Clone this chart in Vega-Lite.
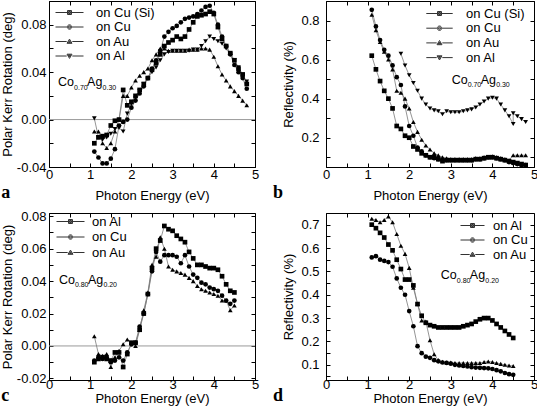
{
"$schema": "https://vega.github.io/schema/vega-lite/v6.json",
"background": "white",
"padding": {"left": 0, "top": 0, "right": 0, "bottom": 0},
"columns": 2,
"spacing": {"row": 6, "column": 12},
"resolve": {"scale": {"shape": "independent"}, "legend": {"shape": "independent"}},
"config": {
  "font": "Liberation Sans",
  "view": {"stroke": "black", "strokeWidth": 1},
  "axis": {"labelFont": "Liberation Sans", "labelFontSize": 13, "labelColor": "black", "titleFont": "Liberation Sans", "titleFontSize": 13, "titleFontWeight": "normal", "titleColor": "black", "domainColor": "black", "tickColor": "black", "tickSize": -4, "tickWidth": 1, "grid": false, "labelPadding": 5, "titlePadding": 3, "labelFlush": false, "labelOverlap": false, "labelBound": false},
  "legend": {"labelFont": "Liberation Sans", "labelFontSize": 13, "labelColor": "black", "title": null}
},
"datasets": {
  "a": [
    {"E":1.1,"on Cu (Si)":-0.020,"on Cu":-0.027,"on Au":-0.010,"on Al":0.001},
    {"E":1.2,"on Cu (Si)":-0.015,"on Cu":-0.032,"on Au":-0.010,"on Al":-0.015},
    {"E":1.3,"on Cu (Si)":-0.014,"on Cu":-0.037,"on Au":-0.020,"on Al":-0.017},
    {"E":1.4,"on Cu (Si)":-0.013,"on Cu":-0.037,"on Au":-0.024,"on Al":-0.015},
    {"E":1.5,"on Cu (Si)":-0.005,"on Cu":-0.033,"on Au":-0.020,"on Al":-0.012},
    {"E":1.6,"on Cu (Si)":-0.001,"on Cu":-0.025,"on Au":-0.010,"on Al":-0.008},
    {"E":1.7,"on Cu (Si)":0.000,"on Cu":-0.005,"on Au":0.000,"on Al":-0.007},
    {"E":1.8,"on Cu (Si)":0.025,"on Cu":-0.002,"on Au":0.020,"on Al":-0.010},
    {"E":1.9,"on Cu (Si)":0.012,"on Cu":0.000,"on Au":0.020,"on Al":0.005},
    {"E":2.0,"on Cu (Si)":0.015,"on Cu":0.010,"on Au":0.027,"on Al":0.013},
    {"E":2.1,"on Cu (Si)":0.020,"on Cu":0.016,"on Au":0.033,"on Al":0.018},
    {"E":2.2,"on Cu (Si)":0.025,"on Cu":0.022,"on Au":0.037,"on Al":0.024},
    {"E":2.3,"on Cu (Si)":0.030,"on Cu":0.028,"on Au":0.040,"on Al":0.030},
    {"E":2.4,"on Cu (Si)":0.035,"on Cu":0.035,"on Au":0.043,"on Al":0.035},
    {"E":2.5,"on Cu (Si)":0.042,"on Cu":0.043,"on Au":0.050,"on Al":0.040},
    {"E":2.6,"on Cu (Si)":0.048,"on Cu":0.050,"on Au":0.055,"on Al":0.044},
    {"E":2.7,"on Cu (Si)":0.055,"on Cu":0.058,"on Au":0.060,"on Al":0.050},
    {"E":2.8,"on Cu (Si)":0.062,"on Cu":0.070,"on Au":0.060,"on Al":0.055},
    {"E":2.9,"on Cu (Si)":0.065,"on Cu":0.074,"on Au":0.058,"on Al":0.057},
    {"E":3.0,"on Cu (Si)":0.067,"on Cu":0.077,"on Au":0.058,"on Al":0.058},
    {"E":3.1,"on Cu (Si)":0.070,"on Cu":0.079,"on Au":0.058,"on Al":0.058},
    {"E":3.2,"on Cu (Si)":0.068,"on Cu":0.082,"on Au":0.058,"on Al":0.058},
    {"E":3.3,"on Cu (Si)":0.070,"on Cu":0.085,"on Au":0.058,"on Al":0.058},
    {"E":3.4,"on Cu (Si)":0.076,"on Cu":0.086,"on Au":0.059,"on Al":0.058},
    {"E":3.5,"on Cu (Si)":0.082,"on Cu":0.087,"on Au":0.059,"on Al":0.059},
    {"E":3.6,"on Cu (Si)":0.087,"on Cu":0.089,"on Au":0.059,"on Al":0.059},
    {"E":3.7,"on Cu (Si)":0.088,"on Cu":0.092,"on Au":0.060,"on Al":0.062},
    {"E":3.8,"on Cu (Si)":0.089,"on Cu":0.095,"on Au":0.060,"on Al":0.066},
    {"E":3.9,"on Cu (Si)":0.091,"on Cu":0.096,"on Au":0.059,"on Al":0.070},
    {"E":4.0,"on Cu (Si)":0.089,"on Cu":0.090,"on Au":0.053,"on Al":0.068},
    {"E":4.1,"on Cu (Si)":0.078,"on Cu":0.080,"on Au":0.045,"on Al":0.066},
    {"E":4.2,"on Cu (Si)":0.068,"on Cu":0.070,"on Au":0.038,"on Al":0.064},
    {"E":4.3,"on Cu (Si)":0.062,"on Cu":0.062,"on Au":0.033,"on Al":0.060},
    {"E":4.4,"on Cu (Si)":0.056,"on Cu":0.055,"on Au":0.028,"on Al":0.055},
    {"E":4.5,"on Cu (Si)":0.050,"on Cu":0.046,"on Au":0.024,"on Al":0.050},
    {"E":4.6,"on Cu (Si)":0.043,"on Cu":0.040,"on Au":0.020,"on Al":0.044},
    {"E":4.7,"on Cu (Si)":0.038,"on Cu":0.035,"on Au":0.016,"on Al":0.038},
    {"E":4.8,"on Cu (Si)":0.030,"on Cu":0.026,"on Au":0.012,"on Al":0.032}
  ],
  "b": [
    {"E":1.1,"on Cu (Si)":0.62,"on Cu":0.855,"on Au":0.83},
    {"E":1.2,"on Cu (Si)":0.55,"on Cu":0.77,"on Au":0.75},
    {"E":1.3,"on Cu (Si)":0.49,"on Cu":0.70,"on Au":0.69},
    {"E":1.4,"on Cu (Si)":0.44,"on Cu":0.65,"on Au":0.64},
    {"E":1.5,"on Cu (Si)":0.40,"on Cu":0.62,"on Au":0.60},
    {"E":1.6,"on Cu (Si)":0.35,"on Cu":0.57,"on Au":0.55},
    {"E":1.7,"on Cu (Si)":0.26,"on Cu":0.51,"on Au":0.44},
    {"E":1.8,"on Cu (Si)":0.245,"on Cu":0.47,"on Au":0.43,"on Al":0.63},
    {"E":1.9,"on Cu (Si)":0.21,"on Cu":0.36,"on Au":0.40,"on Al":0.57},
    {"E":2.0,"on Cu (Si)":0.20,"on Cu":0.26,"on Au":0.35,"on Al":0.52},
    {"E":2.1,"on Cu (Si)":0.155,"on Cu":0.21,"on Au":0.28,"on Al":0.48},
    {"E":2.2,"on Cu (Si)":0.14,"on Cu":0.15,"on Au":0.23,"on Al":0.44},
    {"E":2.3,"on Cu (Si)":0.12,"on Cu":0.13,"on Au":0.19,"on Al":0.40},
    {"E":2.4,"on Cu (Si)":0.11,"on Cu":0.11,"on Au":0.16,"on Al":0.37},
    {"E":2.5,"on Cu (Si)":0.10,"on Cu":0.10,"on Au":0.14,"on Al":0.35},
    {"E":2.6,"on Cu (Si)":0.10,"on Cu":0.095,"on Au":0.12,"on Al":0.34},
    {"E":2.7,"on Cu (Si)":0.09,"on Cu":0.09,"on Au":0.11,"on Al":0.335},
    {"E":2.8,"on Cu (Si)":0.08,"on Cu":0.085,"on Au":0.10,"on Al":0.32},
    {"E":2.9,"on Cu (Si)":0.085,"on Cu":0.085,"on Au":0.095,"on Al":0.335},
    {"E":3.0,"on Cu (Si)":0.085,"on Cu":0.085,"on Au":0.09,"on Al":0.33},
    {"E":3.1,"on Cu (Si)":0.085,"on Cu":0.085,"on Au":0.09,"on Al":0.33},
    {"E":3.2,"on Cu (Si)":0.085,"on Cu":0.085,"on Au":0.09,"on Al":0.33},
    {"E":3.3,"on Cu (Si)":0.085,"on Cu":0.085,"on Au":0.09,"on Al":0.335},
    {"E":3.4,"on Cu (Si)":0.085,"on Cu":0.085,"on Au":0.09,"on Al":0.34},
    {"E":3.5,"on Cu (Si)":0.085,"on Cu":0.085,"on Au":0.09,"on Al":0.345},
    {"E":3.6,"on Cu (Si)":0.09,"on Cu":0.09,"on Au":0.095,"on Al":0.355},
    {"E":3.7,"on Cu (Si)":0.09,"on Cu":0.09,"on Au":0.095,"on Al":0.37},
    {"E":3.8,"on Cu (Si)":0.095,"on Cu":0.095,"on Au":0.10,"on Al":0.385},
    {"E":3.9,"on Cu (Si)":0.10,"on Cu":0.10,"on Au":0.10,"on Al":0.40},
    {"E":4.0,"on Cu (Si)":0.10,"on Cu":0.10,"on Au":0.105,"on Al":0.405},
    {"E":4.1,"on Cu (Si)":0.095,"on Cu":0.095,"on Au":0.10,"on Al":0.40},
    {"E":4.2,"on Cu (Si)":0.09,"on Cu":0.09,"on Au":0.095,"on Al":0.37},
    {"E":4.3,"on Cu (Si)":0.085,"on Cu":0.085,"on Au":0.09,"on Al":0.34},
    {"E":4.4,"on Cu (Si)":0.08,"on Cu":0.075,"on Au":0.085,"on Al":0.31},
    {"E":4.5,"on Cu (Si)":0.075,"on Cu":0.07,"on Au":0.11,"on Al":0.27},
    {"E":4.5,"on Al":0.325},
    {"E":4.6,"on Cu (Si)":0.07,"on Cu":0.065,"on Au":0.11,"on Al":0.31},
    {"E":4.7,"on Cu (Si)":0.065,"on Cu":0.06,"on Au":0.11,"on Al":0.295},
    {"E":4.8,"on Cu (Si)":0.06,"on Cu":0.06,"on Au":0.11,"on Al":0.28}
  ],
  "c": [
    {"E":1.1,"on Al":-0.010,"on Cu":-0.009,"on Au":0.006},
    {"E":1.2,"on Al":-0.008,"on Cu":-0.007,"on Au":-0.005},
    {"E":1.3,"on Al":-0.007,"on Cu":-0.008,"on Au":-0.006},
    {"E":1.4,"on Al":-0.008,"on Cu":-0.007,"on Au":-0.005},
    {"E":1.5,"on Al":-0.009,"on Cu":-0.010,"on Au":-0.013},
    {"E":1.6,"on Al":-0.004,"on Cu":-0.009,"on Au":-0.007},
    {"E":1.7,"on Al":-0.004,"on Cu":-0.007,"on Au":-0.003},
    {"E":1.8,"on Al":-0.013,"on Cu":-0.009,"on Au":0.001},
    {"E":1.9,"on Al":-0.005,"on Cu":-0.004,"on Au":0.004},
    {"E":2.0,"on Al":0.002,"on Cu":0.001,"on Au":0.002},
    {"E":2.1,"on Al":0.002,"on Cu":0.002,"on Au":0.000},
    {"E":2.2,"on Al":0.010,"on Cu":0.012,"on Au":0.010},
    {"E":2.3,"on Al":0.020,"on Cu":0.020,"on Au":0.022},
    {"E":2.4,"on Al":0.032,"on Cu":0.032,"on Au":0.033},
    {"E":2.5,"on Al":0.048,"on Cu":0.046,"on Au":0.050},
    {"E":2.6,"on Al":0.060,"on Cu":0.058,"on Au":0.055},
    {"E":2.7,"on Al":0.065,"on Cu":0.052,"on Au":0.067},
    {"E":2.8,"on Al":0.074,"on Cu":0.056,"on Au":0.060},
    {"E":2.9,"on Al":0.072,"on Cu":0.056,"on Au":0.049},
    {"E":3.0,"on Al":0.071,"on Cu":0.056,"on Au":0.047},
    {"E":3.1,"on Al":0.068,"on Cu":0.055,"on Au":0.046},
    {"E":3.2,"on Al":0.066,"on Cu":0.051,"on Au":0.045},
    {"E":3.3,"on Al":0.064,"on Cu":0.056,"on Au":0.044},
    {"E":3.4,"on Al":0.058,"on Cu":0.049,"on Au":0.042},
    {"E":3.5,"on Al":0.054,"on Cu":0.044,"on Au":0.040},
    {"E":3.6,"on Al":0.050,"on Cu":0.042,"on Au":0.037},
    {"E":3.7,"on Al":0.050,"on Cu":0.039,"on Au":0.035},
    {"E":3.8,"on Al":0.049,"on Cu":0.038,"on Au":0.034},
    {"E":3.9,"on Al":0.048,"on Cu":0.036,"on Au":0.033},
    {"E":4.0,"on Al":0.048,"on Cu":0.035,"on Au":0.032},
    {"E":4.1,"on Al":0.047,"on Cu":0.034,"on Au":0.031},
    {"E":4.2,"on Al":0.043,"on Cu":0.031,"on Au":0.028},
    {"E":4.3,"on Al":0.038,"on Cu":0.028,"on Au":0.028},
    {"E":4.4,"on Al":0.034,"on Cu":0.026,"on Au":0.022},
    {"E":4.5,"on Al":0.033,"on Cu":0.028,"on Au":0.025}
  ],
  "d": [
    {"E":1.1,"on Al":0.70,"on Cu":0.56,"on Au":0.725},
    {"E":1.2,"on Al":0.685,"on Cu":0.565,"on Au":0.72},
    {"E":1.3,"on Al":0.665,"on Cu":0.55,"on Au":0.71},
    {"E":1.4,"on Al":0.645,"on Cu":0.545,"on Au":0.72},
    {"E":1.5,"on Al":0.615,"on Cu":0.54,"on Au":0.735},
    {"E":1.6,"on Al":0.59,"on Cu":0.52,"on Au":0.71},
    {"E":1.7,"on Al":0.55,"on Cu":0.47,"on Au":0.66},
    {"E":1.8,"on Al":0.51,"on Cu":0.43,"on Au":0.61},
    {"E":1.9,"on Al":0.465,"on Cu":0.40,"on Au":0.575},
    {"E":2.0,"on Al":0.465,"on Cu":0.33,"on Au":0.515},
    {"E":2.1,"on Al":0.44,"on Cu":0.265,"on Au":0.43},
    {"E":2.2,"on Al":0.36,"on Cu":0.18,"on Au":0.36},
    {"E":2.3,"on Al":0.31,"on Cu":0.15,"on Au":0.29},
    {"E":2.4,"on Al":0.28,"on Cu":0.135,"on Au":0.285},
    {"E":2.5,"on Al":0.27,"on Cu":0.13,"on Au":0.205},
    {"E":2.6,"on Al":0.265,"on Cu":0.12,"on Au":0.145},
    {"E":2.7,"on Al":0.26,"on Cu":0.115,"on Au":0.12},
    {"E":2.8,"on Al":0.26,"on Cu":0.11,"on Au":0.113},
    {"E":2.9,"on Al":0.26,"on Cu":0.108,"on Au":0.11},
    {"E":3.0,"on Al":0.26,"on Cu":0.105,"on Au":0.11},
    {"E":3.1,"on Al":0.26,"on Cu":0.10,"on Au":0.108},
    {"E":3.2,"on Al":0.26,"on Cu":0.097,"on Au":0.108},
    {"E":3.3,"on Al":0.265,"on Cu":0.095,"on Au":0.108},
    {"E":3.4,"on Al":0.27,"on Cu":0.093,"on Au":0.108},
    {"E":3.5,"on Al":0.275,"on Cu":0.09,"on Au":0.108},
    {"E":3.6,"on Al":0.285,"on Cu":0.088,"on Au":0.108},
    {"E":3.7,"on Al":0.295,"on Cu":0.087,"on Au":0.108},
    {"E":3.8,"on Al":0.30,"on Cu":0.086,"on Au":0.112},
    {"E":3.9,"on Al":0.30,"on Cu":0.085,"on Au":0.114},
    {"E":4.0,"on Al":0.29,"on Cu":0.082,"on Au":0.112},
    {"E":4.1,"on Al":0.275,"on Cu":0.077,"on Au":0.108},
    {"E":4.2,"on Al":0.26,"on Cu":0.072,"on Au":0.104},
    {"E":4.3,"on Al":0.245,"on Cu":0.065,"on Au":0.10},
    {"E":4.4,"on Al":0.23,"on Cu":0.06,"on Au":0.097},
    {"E":4.5,"on Al":0.215,"on Cu":0.057,"on Au":0.095}
  ]
},
"concat": [
  {
    "width": 206, "height": 166,
    "data": {"name": "a"},
    "transform": [{"fold": ["on Cu (Si)", "on Cu", "on Au", "on Al"], "as": ["s", "v"]}, {"filter": "isValid(datum.v)"}],
    "title": {"text": "a", "orient": "bottom", "anchor": "start", "frame": "bounds", "font": "Liberation Serif", "fontWeight": "bold", "fontSize": 18, "offset": -18, "color": "black"},
    "resolve": {"axis": {"x": "independent", "y": "independent"}, "scale": {"shape": "independent"}, "legend": {"shape": "independent"}},
    "layer": [
      {"data": {"values": [{}]}, "mark": {"type": "rule", "color": "#9a9a9a", "strokeWidth": 1},
       "encoding": {"y": {"datum": 0, "type": "quantitative", "scale": {"domain": [-0.04, 0.1], "nice": false, "zero": false}, "axis": null}}},
      {"mark": {"type": "line", "color": "#7a7a7a", "strokeWidth": 0.8},
       "encoding": {
         "x": {"field": "E", "type": "quantitative", "scale": {"domain": [0, 5], "nice": false, "zero": false}, "axis": {"title": "Photon Energy (eV)", "titlePadding": 8, "values": [0,0.5,1,1.5,2,2.5,3,3.5,4,4.5,5], "labelExpr": "datum.value % 1 == 0 ? format(datum.value, 'd') : ''"}},
         "y": {"field": "v", "type": "quantitative", "scale": {"domain": [-0.04, 0.1], "nice": false, "zero": false}, "axis": {"title": "Polar Kerr Rotation (deg)", "labelPadding": 7, "titlePadding": 2, "values": [-0.04,-0.02,0,0.02,0.04,0.06,0.08], "labelExpr": "abs(datum.value*25 - round(datum.value*25)) < 0.01 ? (datum.value < -0.0001 ? '-' : '') + format(abs(datum.value), '.2f') : ''"}},
         "detail": {"field": "s", "type": "nominal"}}},
      {"mark": {"type": "point", "filled": true, "color": "black", "opacity": 1, "size": 22},
       "encoding": {
         "x": {"field": "E", "type": "quantitative", "scale": {"domain": [0, 5], "nice": false, "zero": false}, "axis": null},
         "y": {"field": "v", "type": "quantitative", "scale": {"domain": [-0.04, 0.1], "nice": false, "zero": false}, "axis": null},
         "shape": {"field": "s", "type": "nominal", "scale": {"domain": ["on Cu (Si)", "on Cu", "on Au", "on Al"], "range": ["square", "circle", "triangle-up", "triangle-down"]}, "legend": null}}},
      {"transform": [{"filter": "false"}],
       "mark": {"type": "point", "filled": false, "color": "#333333", "strokeWidth": 1, "opacity": 1},
       "encoding": {
         "x": {"field": "E", "type": "quantitative", "scale": {"domain": [0, 5], "nice": false, "zero": false}, "axis": null},
         "y": {"field": "v", "type": "quantitative", "scale": {"domain": [-0.04, 0.1], "nice": false, "zero": false}, "axis": null},
         "shape": {"field": "s", "type": "nominal", "scale": {"domain": ["on Cu (Si)", "on Cu", "on Au", "on Al"], "range": [
           "M-3.5,0H-0.6M0.6,0H3.5M-0.5,-0.5H0.5V0.5H-0.5ZM-0.25,-0.25H0.25V0.25H-0.25ZM-0.05,-0.05H0.05V0.05H-0.05Z",
           "M-3.5,0H-0.65M0.65,0H3.5M-0.55,0A0.55,0.55,0,1,0,0.55,0A0.55,0.55,0,1,0,-0.55,0ZM-0.28,0A0.28,0.28,0,1,0,0.28,0A0.28,0.28,0,1,0,-0.28,0ZM-0.06,0A0.06,0.06,0,1,0,0.06,0A0.06,0.06,0,1,0,-0.06,0Z",
           "M-3.5,0H-0.7M0.7,0H3.5M0,-0.6L0.62,0.45L-0.62,0.45ZM0,-0.22L0.3,0.28L-0.3,0.28ZM0,0.05L0.06,0.15L-0.06,0.15Z",
           "M-3.5,0H-0.7M0.7,0H3.5M0,0.6L0.62,-0.45L-0.62,-0.45ZM0,0.22L0.3,-0.28L-0.3,-0.28ZM0,-0.05L0.06,-0.15L-0.06,-0.15Z"]},
           "legend": {"orient": "none", "legendX": 14, "legendY": 5, "symbolSize": 64, "labelOffset": 20, "rowPadding": 0.5, "padding": 0, "symbolStrokeWidth": 1, "symbolFillColor": "black", "symbolOpacity": 1}}}},
      {"data": {"values": [{}]}, "mark": {"type": "text", "text": "Co", "align": "left", "baseline": "alphabetic", "font": "Liberation Sans", "fontSize": 12.5, "color": "black"},
       "encoding": {"x": {"datum": 0.22, "type": "quantitative", "scale": {"domain": [0, 5], "nice": false, "zero": false}, "axis": null}, "y": {"datum": 0.0282, "type": "quantitative", "scale": {"domain": [-0.04, 0.1], "nice": false, "zero": false}, "axis": null}}},
      {"data": {"values": [{}]}, "mark": {"type": "text", "text": "0.70", "align": "left", "baseline": "alphabetic", "font": "Liberation Sans", "fontSize": 7, "dx": 16, "dy": 3.5, "color": "black"},
       "encoding": {"x": {"datum": 0.22, "type": "quantitative", "scale": {"domain": [0, 5], "nice": false, "zero": false}, "axis": null}, "y": {"datum": 0.0282, "type": "quantitative", "scale": {"domain": [-0.04, 0.1], "nice": false, "zero": false}, "axis": null}}},
      {"data": {"values": [{}]}, "mark": {"type": "text", "text": "Ag", "align": "left", "baseline": "alphabetic", "font": "Liberation Sans", "fontSize": 12.5, "dx": 29, "color": "black"},
       "encoding": {"x": {"datum": 0.22, "type": "quantitative", "scale": {"domain": [0, 5], "nice": false, "zero": false}, "axis": null}, "y": {"datum": 0.0282, "type": "quantitative", "scale": {"domain": [-0.04, 0.1], "nice": false, "zero": false}, "axis": null}}},
      {"data": {"values": [{}]}, "mark": {"type": "text", "text": "0.30", "align": "left", "baseline": "alphabetic", "font": "Liberation Sans", "fontSize": 7, "dx": 44.5, "dy": 3.5, "color": "black"},
       "encoding": {"x": {"datum": 0.22, "type": "quantitative", "scale": {"domain": [0, 5], "nice": false, "zero": false}, "axis": null}, "y": {"datum": 0.0282, "type": "quantitative", "scale": {"domain": [-0.04, 0.1], "nice": false, "zero": false}, "axis": null}}},
      {"mark": {"type": "point", "opacity": 0},
       "encoding": {
         "x": {"field": "E", "type": "quantitative", "scale": {"domain": [0, 5], "nice": false, "zero": false}, "axis": {"orient": "top", "labels": false, "title": null, "domain": false, "values": [0,0.5,1,1.5,2,2.5,3,3.5,4,4.5,5]}},
         "y": {"field": "v", "type": "quantitative", "scale": {"domain": [-0.04, 0.1], "nice": false, "zero": false}, "axis": {"orient": "right", "labels": false, "title": null, "domain": false, "values": [-0.04,-0.02,0,0.02,0.04,0.06,0.08,0.1]}}}}
    ]
  },
  {
    "width": 208, "height": 166,
    "data": {"name": "b"},
    "transform": [{"fold": ["on Cu (Si)", "on Cu", "on Au", "on Al"], "as": ["s", "v"]}, {"filter": "isValid(datum.v)"}],
    "title": {"text": "b", "orient": "bottom", "anchor": "start", "frame": "bounds", "align": "right", "font": "Liberation Serif", "fontWeight": "bold", "fontSize": 18, "offset": -18, "color": "black"},
    "resolve": {"axis": {"x": "independent", "y": "independent"}, "scale": {"shape": "independent"}, "legend": {"shape": "independent"}},
    "layer": [
      {"mark": {"type": "line", "color": "#7a7a7a", "strokeWidth": 0.8},
       "encoding": {
         "x": {"field": "E", "type": "quantitative", "scale": {"domain": [0, 5], "nice": false, "zero": false}, "axis": {"title": "Photon Energy (eV)", "titlePadding": 8, "values": [0,0.5,1,1.5,2,2.5,3,3.5,4,4.5,5], "labelExpr": "datum.value % 1 == 0 ? format(datum.value, 'd') : ''"}},
         "y": {"field": "v", "type": "quantitative", "scale": {"domain": [0.05, 0.9], "nice": false, "zero": false}, "axis": {"title": "Reflectivity (%)", "labelPadding": 11, "titlePadding": 5, "values": [0.1,0.2,0.3,0.4,0.5,0.6,0.7,0.8], "labelExpr": "abs(datum.value*5 - round(datum.value*5)) < 0.01 ? format(datum.value, '.1f') : ''"}},
         "detail": {"field": "s", "type": "nominal"}}},
      {"mark": {"type": "point", "filled": true, "color": "black", "opacity": 1, "size": 22},
       "encoding": {
         "x": {"field": "E", "type": "quantitative", "scale": {"domain": [0, 5], "nice": false, "zero": false}, "axis": null},
         "y": {"field": "v", "type": "quantitative", "scale": {"domain": [0.05, 0.9], "nice": false, "zero": false}, "axis": null},
         "shape": {"field": "s", "type": "nominal", "scale": {"domain": ["on Cu (Si)", "on Cu", "on Au", "on Al"], "range": ["square", "circle", "triangle-up", "triangle-down"]}, "legend": null}}},
      {"transform": [{"filter": "false"}],
       "mark": {"type": "point", "filled": false, "color": "#333333", "strokeWidth": 1, "opacity": 1},
       "encoding": {
         "x": {"field": "E", "type": "quantitative", "scale": {"domain": [0, 5], "nice": false, "zero": false}, "axis": null},
         "y": {"field": "v", "type": "quantitative", "scale": {"domain": [0.05, 0.9], "nice": false, "zero": false}, "axis": null},
         "shape": {"field": "s", "type": "nominal", "scale": {"domain": ["on Cu (Si)", "on Cu", "on Au", "on Al"], "range": [
           "M-3.3,0H-0.6M0.6,0H3.3M-0.5,-0.5H0.5V0.5H-0.5ZM-0.25,-0.25H0.25V0.25H-0.25ZM-0.05,-0.05H0.05V0.05H-0.05Z",
           "M-3.3,0H-0.65M0.65,0H3.3M-0.55,0A0.55,0.55,0,1,0,0.55,0A0.55,0.55,0,1,0,-0.55,0ZM-0.28,0A0.28,0.28,0,1,0,0.28,0A0.28,0.28,0,1,0,-0.28,0ZM-0.06,0A0.06,0.06,0,1,0,0.06,0A0.06,0.06,0,1,0,-0.06,0Z",
           "M-3.3,0H-0.7M0.7,0H3.3M0,-0.6L0.62,0.45L-0.62,0.45ZM0,-0.22L0.3,0.28L-0.3,0.28ZM0,0.05L0.06,0.15L-0.06,0.15Z",
           "M-3.3,0H-0.7M0.7,0H3.3M0,0.6L0.62,-0.45L-0.62,-0.45ZM0,0.22L0.3,-0.28L-0.3,-0.28ZM0,-0.05L0.06,-0.15L-0.06,-0.15Z"]},
           "legend": {"orient": "none", "legendX": 107, "legendY": 6, "symbolSize": 64, "labelOffset": 20, "rowPadding": 0.7, "padding": 0, "symbolStrokeWidth": 1, "symbolFillColor": "black", "symbolOpacity": 1}}}},
      {"data": {"values": [{}]}, "mark": {"type": "text", "text": "Co", "align": "left", "baseline": "alphabetic", "font": "Liberation Sans", "fontSize": 12.5, "color": "black"},
       "encoding": {"x": {"datum": 3.02, "type": "quantitative", "scale": {"domain": [0, 5], "nice": false, "zero": false}, "axis": null}, "y": {"datum": 0.477, "type": "quantitative", "scale": {"domain": [0.05, 0.9], "nice": false, "zero": false}, "axis": null}}},
      {"data": {"values": [{}]}, "mark": {"type": "text", "text": "0.70", "align": "left", "baseline": "alphabetic", "font": "Liberation Sans", "fontSize": 7, "dx": 16, "dy": 3.5, "color": "black"},
       "encoding": {"x": {"datum": 3.02, "type": "quantitative", "scale": {"domain": [0, 5], "nice": false, "zero": false}, "axis": null}, "y": {"datum": 0.477, "type": "quantitative", "scale": {"domain": [0.05, 0.9], "nice": false, "zero": false}, "axis": null}}},
      {"data": {"values": [{}]}, "mark": {"type": "text", "text": "Ag", "align": "left", "baseline": "alphabetic", "font": "Liberation Sans", "fontSize": 12.5, "dx": 29, "color": "black"},
       "encoding": {"x": {"datum": 3.02, "type": "quantitative", "scale": {"domain": [0, 5], "nice": false, "zero": false}, "axis": null}, "y": {"datum": 0.477, "type": "quantitative", "scale": {"domain": [0.05, 0.9], "nice": false, "zero": false}, "axis": null}}},
      {"data": {"values": [{}]}, "mark": {"type": "text", "text": "0.30", "align": "left", "baseline": "alphabetic", "font": "Liberation Sans", "fontSize": 7, "dx": 44.5, "dy": 3.5, "color": "black"},
       "encoding": {"x": {"datum": 3.02, "type": "quantitative", "scale": {"domain": [0, 5], "nice": false, "zero": false}, "axis": null}, "y": {"datum": 0.477, "type": "quantitative", "scale": {"domain": [0.05, 0.9], "nice": false, "zero": false}, "axis": null}}},
      {"mark": {"type": "point", "opacity": 0},
       "encoding": {
         "x": {"field": "E", "type": "quantitative", "scale": {"domain": [0, 5], "nice": false, "zero": false}, "axis": {"orient": "top", "labels": false, "title": null, "domain": false, "values": [0,0.5,1,1.5,2,2.5,3,3.5,4,4.5,5]}},
         "y": {"field": "v", "type": "quantitative", "scale": {"domain": [0.05, 0.9], "nice": false, "zero": false}, "axis": {"orient": "right", "labels": false, "title": null, "domain": false, "values": [0.1,0.2,0.3,0.4,0.5,0.6,0.7,0.8,0.9]}}}}
    ]
  },
  {
    "width": 206, "height": 167,
    "data": {"name": "c"},
    "transform": [{"fold": ["on Al", "on Cu", "on Au"], "as": ["s", "v"]}, {"filter": "isValid(datum.v)"}],
    "title": {"text": "c", "orient": "bottom", "anchor": "start", "frame": "bounds", "font": "Liberation Serif", "fontWeight": "bold", "fontSize": 18, "offset": -18, "color": "black"},
    "resolve": {"axis": {"x": "independent", "y": "independent"}, "scale": {"shape": "independent"}, "legend": {"shape": "independent"}},
    "layer": [
      {"data": {"values": [{}]}, "mark": {"type": "rule", "color": "#9a9a9a", "strokeWidth": 1},
       "encoding": {"y": {"datum": 0, "type": "quantitative", "scale": {"domain": [-0.021, 0.082], "nice": false, "zero": false}, "axis": null}}},
      {"mark": {"type": "line", "color": "#7a7a7a", "strokeWidth": 0.8},
       "encoding": {
         "x": {"field": "E", "type": "quantitative", "scale": {"domain": [0, 5], "nice": false, "zero": false}, "axis": {"title": "Photon Energy (eV)", "labelPadding": 2, "titlePadding": 1, "values": [0,0.5,1,1.5,2,2.5,3,3.5,4,4.5,5], "labelExpr": "datum.value % 1 == 0 ? format(datum.value, 'd') : ''"}},
         "y": {"field": "v", "type": "quantitative", "scale": {"domain": [-0.021, 0.082], "nice": false, "zero": false}, "axis": {"title": "Polar Kerr Rotation (deg)", "labelPadding": 7, "titlePadding": 2, "values": [-0.02,-0.01,0,0.01,0.02,0.03,0.04,0.05,0.06,0.07,0.08], "labelExpr": "abs(datum.value*50 - round(datum.value*50)) < 0.01 ? (datum.value < -0.0001 ? '-' : '') + format(abs(datum.value), '.2f') : ''"}},
         "detail": {"field": "s", "type": "nominal"}}},
      {"mark": {"type": "point", "filled": true, "color": "black", "opacity": 1, "size": 22},
       "encoding": {
         "x": {"field": "E", "type": "quantitative", "scale": {"domain": [0, 5], "nice": false, "zero": false}, "axis": null},
         "y": {"field": "v", "type": "quantitative", "scale": {"domain": [-0.021, 0.082], "nice": false, "zero": false}, "axis": null},
         "shape": {"field": "s", "type": "nominal", "scale": {"domain": ["on Al", "on Cu", "on Au"], "range": ["square", "circle", "triangle-up"]}, "legend": null}}},
      {"transform": [{"filter": "false"}],
       "mark": {"type": "point", "filled": false, "color": "#333333", "strokeWidth": 1, "opacity": 1},
       "encoding": {
         "x": {"field": "E", "type": "quantitative", "scale": {"domain": [0, 5], "nice": false, "zero": false}, "axis": null},
         "y": {"field": "v", "type": "quantitative", "scale": {"domain": [-0.021, 0.082], "nice": false, "zero": false}, "axis": null},
         "shape": {"field": "s", "type": "nominal", "scale": {"domain": ["on Al", "on Cu", "on Au"], "range": [
           "M-3.5,0H-0.6M0.6,0H3.5M-0.5,-0.5H0.5V0.5H-0.5ZM-0.25,-0.25H0.25V0.25H-0.25ZM-0.05,-0.05H0.05V0.05H-0.05Z",
           "M-3.5,0H-0.65M0.65,0H3.5M-0.55,0A0.55,0.55,0,1,0,0.55,0A0.55,0.55,0,1,0,-0.55,0ZM-0.28,0A0.28,0.28,0,1,0,0.28,0A0.28,0.28,0,1,0,-0.28,0ZM-0.06,0A0.06,0.06,0,1,0,0.06,0A0.06,0.06,0,1,0,-0.06,0Z",
           "M-3.5,0H-0.7M0.7,0H3.5M0,-0.6L0.62,0.45L-0.62,0.45ZM0,-0.22L0.3,0.28L-0.3,0.28ZM0,0.05L0.06,0.15L-0.06,0.15Z"]},
           "legend": {"orient": "none", "legendX": 15, "legendY": 2, "symbolSize": 64, "labelOffset": 15, "rowPadding": 1.5, "padding": 0, "symbolStrokeWidth": 1, "symbolFillColor": "black", "symbolOpacity": 1}}}},
      {"data": {"values": [{}]}, "mark": {"type": "text", "text": "Co", "align": "left", "baseline": "alphabetic", "font": "Liberation Sans", "fontSize": 12.5, "color": "black"},
       "encoding": {"x": {"datum": 0.24, "type": "quantitative", "scale": {"domain": [0, 5], "nice": false, "zero": false}, "axis": null}, "y": {"datum": 0.0384, "type": "quantitative", "scale": {"domain": [-0.021, 0.082], "nice": false, "zero": false}, "axis": null}}},
      {"data": {"values": [{}]}, "mark": {"type": "text", "text": "0.80", "align": "left", "baseline": "alphabetic", "font": "Liberation Sans", "fontSize": 7, "dx": 16, "dy": 3.5, "color": "black"},
       "encoding": {"x": {"datum": 0.24, "type": "quantitative", "scale": {"domain": [0, 5], "nice": false, "zero": false}, "axis": null}, "y": {"datum": 0.0384, "type": "quantitative", "scale": {"domain": [-0.021, 0.082], "nice": false, "zero": false}, "axis": null}}},
      {"data": {"values": [{}]}, "mark": {"type": "text", "text": "Ag", "align": "left", "baseline": "alphabetic", "font": "Liberation Sans", "fontSize": 12.5, "dx": 29, "color": "black"},
       "encoding": {"x": {"datum": 0.24, "type": "quantitative", "scale": {"domain": [0, 5], "nice": false, "zero": false}, "axis": null}, "y": {"datum": 0.0384, "type": "quantitative", "scale": {"domain": [-0.021, 0.082], "nice": false, "zero": false}, "axis": null}}},
      {"data": {"values": [{}]}, "mark": {"type": "text", "text": "0.20", "align": "left", "baseline": "alphabetic", "font": "Liberation Sans", "fontSize": 7, "dx": 44.5, "dy": 3.5, "color": "black"},
       "encoding": {"x": {"datum": 0.24, "type": "quantitative", "scale": {"domain": [0, 5], "nice": false, "zero": false}, "axis": null}, "y": {"datum": 0.0384, "type": "quantitative", "scale": {"domain": [-0.021, 0.082], "nice": false, "zero": false}, "axis": null}}},
      {"mark": {"type": "point", "opacity": 0},
       "encoding": {
         "x": {"field": "E", "type": "quantitative", "scale": {"domain": [0, 5], "nice": false, "zero": false}, "axis": {"orient": "top", "labels": false, "title": null, "domain": false, "values": [0,0.5,1,1.5,2,2.5,3,3.5,4,4.5,5]}},
         "y": {"field": "v", "type": "quantitative", "scale": {"domain": [-0.021, 0.082], "nice": false, "zero": false}, "axis": {"orient": "right", "labels": false, "title": null, "domain": false, "values": [-0.02,-0.01,0,0.01,0.02,0.03,0.04,0.05,0.06,0.07,0.08]}}}}
    ]
  },
  {
    "width": 208, "height": 167,
    "data": {"name": "d"},
    "transform": [{"fold": ["on Al", "on Cu", "on Au"], "as": ["s", "v"]}, {"filter": "isValid(datum.v)"}],
    "title": {"text": "d", "orient": "bottom", "anchor": "start", "frame": "bounds", "align": "right", "font": "Liberation Serif", "fontWeight": "bold", "fontSize": 18, "offset": -18, "color": "black"},
    "resolve": {"axis": {"x": "independent", "y": "independent"}, "scale": {"shape": "independent"}, "legend": {"shape": "independent"}},
    "layer": [
      {"mark": {"type": "line", "color": "#7a7a7a", "strokeWidth": 0.8},
       "encoding": {
         "x": {"field": "E", "type": "quantitative", "scale": {"domain": [0, 5], "nice": false, "zero": false}, "axis": {"title": "Photon Energy (eV)", "labelPadding": 2, "titlePadding": 1, "values": [0,0.5,1,1.5,2,2.5,3,3.5,4,4.5,5], "labelExpr": "datum.value % 1 == 0 ? format(datum.value, 'd') : ''"}},
         "y": {"field": "v", "type": "quantitative", "scale": {"domain": [0.035, 0.75], "nice": false, "zero": false}, "axis": {"title": "Reflectivity (%)", "labelPadding": 11, "titlePadding": 5, "values": [0.05,0.1,0.15,0.2,0.25,0.3,0.35,0.4,0.45,0.5,0.55,0.6,0.65,0.7], "labelExpr": "abs(datum.value*10 - round(datum.value*10)) < 0.01 ? format(datum.value, '.1f') : ''"}},
         "detail": {"field": "s", "type": "nominal"}}},
      {"mark": {"type": "point", "filled": true, "color": "black", "opacity": 1, "size": 22},
       "encoding": {
         "x": {"field": "E", "type": "quantitative", "scale": {"domain": [0, 5], "nice": false, "zero": false}, "axis": null},
         "y": {"field": "v", "type": "quantitative", "scale": {"domain": [0.035, 0.75], "nice": false, "zero": false}, "axis": null},
         "shape": {"field": "s", "type": "nominal", "scale": {"domain": ["on Al", "on Cu", "on Au"], "range": ["square", "circle", "triangle-up"]}, "legend": null}}},
      {"transform": [{"filter": "false"}],
       "mark": {"type": "point", "filled": false, "color": "#333333", "strokeWidth": 1, "opacity": 1},
       "encoding": {
         "x": {"field": "E", "type": "quantitative", "scale": {"domain": [0, 5], "nice": false, "zero": false}, "axis": null},
         "y": {"field": "v", "type": "quantitative", "scale": {"domain": [0.035, 0.75], "nice": false, "zero": false}, "axis": null},
         "shape": {"field": "s", "type": "nominal", "scale": {"domain": ["on Al", "on Cu", "on Au"], "range": [
           "M-3,0H-0.6M0.6,0H3M-0.5,-0.5H0.5V0.5H-0.5ZM-0.25,-0.25H0.25V0.25H-0.25ZM-0.05,-0.05H0.05V0.05H-0.05Z",
           "M-3,0H-0.65M0.65,0H3M-0.55,0A0.55,0.55,0,1,0,0.55,0A0.55,0.55,0,1,0,-0.55,0ZM-0.28,0A0.28,0.28,0,1,0,0.28,0A0.28,0.28,0,1,0,-0.28,0ZM-0.06,0A0.06,0.06,0,1,0,0.06,0A0.06,0.06,0,1,0,-0.06,0Z",
           "M-3,0H-0.7M0.7,0H3M0,-0.6L0.62,0.45L-0.62,0.45ZM0,-0.22L0.3,0.28L-0.3,0.28ZM0,0.05L0.06,0.15L-0.06,0.15Z"]},
           "legend": {"orient": "none", "legendX": 140, "legendY": 6, "symbolSize": 64, "labelOffset": 14, "rowPadding": 0.5, "padding": 0, "symbolStrokeWidth": 1, "symbolFillColor": "black", "symbolOpacity": 1}}}},
      {"data": {"values": [{}]}, "mark": {"type": "text", "text": "Co", "align": "left", "baseline": "alphabetic", "font": "Liberation Sans", "fontSize": 12.5, "color": "black"},
       "encoding": {"x": {"datum": 2.76, "type": "quantitative", "scale": {"domain": [0, 5], "nice": false, "zero": false}, "axis": null}, "y": {"datum": 0.467, "type": "quantitative", "scale": {"domain": [0.035, 0.75], "nice": false, "zero": false}, "axis": null}}},
      {"data": {"values": [{}]}, "mark": {"type": "text", "text": "0.80", "align": "left", "baseline": "alphabetic", "font": "Liberation Sans", "fontSize": 7, "dx": 16, "dy": 3.5, "color": "black"},
       "encoding": {"x": {"datum": 2.76, "type": "quantitative", "scale": {"domain": [0, 5], "nice": false, "zero": false}, "axis": null}, "y": {"datum": 0.467, "type": "quantitative", "scale": {"domain": [0.035, 0.75], "nice": false, "zero": false}, "axis": null}}},
      {"data": {"values": [{}]}, "mark": {"type": "text", "text": "Ag", "align": "left", "baseline": "alphabetic", "font": "Liberation Sans", "fontSize": 12.5, "dx": 29, "color": "black"},
       "encoding": {"x": {"datum": 2.76, "type": "quantitative", "scale": {"domain": [0, 5], "nice": false, "zero": false}, "axis": null}, "y": {"datum": 0.467, "type": "quantitative", "scale": {"domain": [0.035, 0.75], "nice": false, "zero": false}, "axis": null}}},
      {"data": {"values": [{}]}, "mark": {"type": "text", "text": "0.20", "align": "left", "baseline": "alphabetic", "font": "Liberation Sans", "fontSize": 7, "dx": 44.5, "dy": 3.5, "color": "black"},
       "encoding": {"x": {"datum": 2.76, "type": "quantitative", "scale": {"domain": [0, 5], "nice": false, "zero": false}, "axis": null}, "y": {"datum": 0.467, "type": "quantitative", "scale": {"domain": [0.035, 0.75], "nice": false, "zero": false}, "axis": null}}},
      {"mark": {"type": "point", "opacity": 0},
       "encoding": {
         "x": {"field": "E", "type": "quantitative", "scale": {"domain": [0, 5], "nice": false, "zero": false}, "axis": {"orient": "top", "labels": false, "title": null, "domain": false, "values": [0,0.5,1,1.5,2,2.5,3,3.5,4,4.5,5]}},
         "y": {"field": "v", "type": "quantitative", "scale": {"domain": [0.035, 0.75], "nice": false, "zero": false}, "axis": {"orient": "right", "labels": false, "title": null, "domain": false, "values": [0.05,0.1,0.15,0.2,0.25,0.3,0.35,0.4,0.45,0.5,0.55,0.6,0.65,0.7]}}}}
    ]
  }
]
}
